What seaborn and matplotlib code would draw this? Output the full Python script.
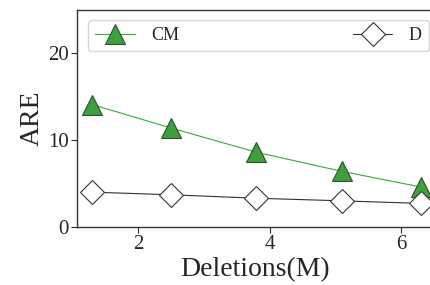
import numpy as np
import pandas as pd
import seaborn as sns
import matplotlib.pyplot as plt

deletions = [1.3, 2.5, 3.8, 5.1, 6.3]
are_cm = [14.1, 11.4, 8.6, 6.4, 4.6]
are_d = [4.0, 3.7, 3.3, 3.0, 2.7]

sns.set_style("ticks")
plt.rcParams['font.family'] = ['Liberation Serif', 'DejaVu Serif']
plt.rcParams['mathtext.fontset'] = 'stix'

fig = plt.figure(figsize=(4.3, 2.85), dpi=100)
ax = fig.add_axes([0.179, 0.204, 0.83, 0.761])

df = pd.DataFrame({'x': deletions, 'CM': are_cm, 'D': are_d})

sns.lineplot(data=df, x='x', y='CM', ax=ax, color='#3aaa35', lw=0.8,
             marker='^', markersize=14, markerfacecolor='#3f9f3f',
             markeredgecolor='#2f4f2f', markeredgewidth=0.8, label='CM')
sns.lineplot(data=df, x='x', y='D', ax=ax, color='#333333', lw=0.8,
             marker='D', markersize=12, markerfacecolor='white',
             markeredgecolor='#333333', markeredgewidth=0.8, label='D')

ax.set_xlim(1.07, 6.5)
ax.set_ylim(0, 25)
ax.set_yticks([0, 10, 20])
ax.set_xticks([2, 4, 6])
ax.set_xlabel('Deletions(M)', fontsize=20, labelpad=2)
ax.set_ylabel('ARE', fontsize=20, labelpad=2)
ax.tick_params(labelsize=15, length=4, width=0.8, pad=2)
for s in ax.spines.values():
    s.set_visible(True)
    s.set_linewidth(1.0)
    s.set_color('#333333')

ax.legend(loc='upper left', bbox_to_anchor=(0.031, 0.80, 0.955, 0.154),
          ncol=2, mode='expand', fontsize=13, frameon=True, fancybox=True,
          framealpha=0.8, borderaxespad=0, handlelength=2.2,
          handletextpad=0.9)

fig.savefig('out.png', dpi=100)
